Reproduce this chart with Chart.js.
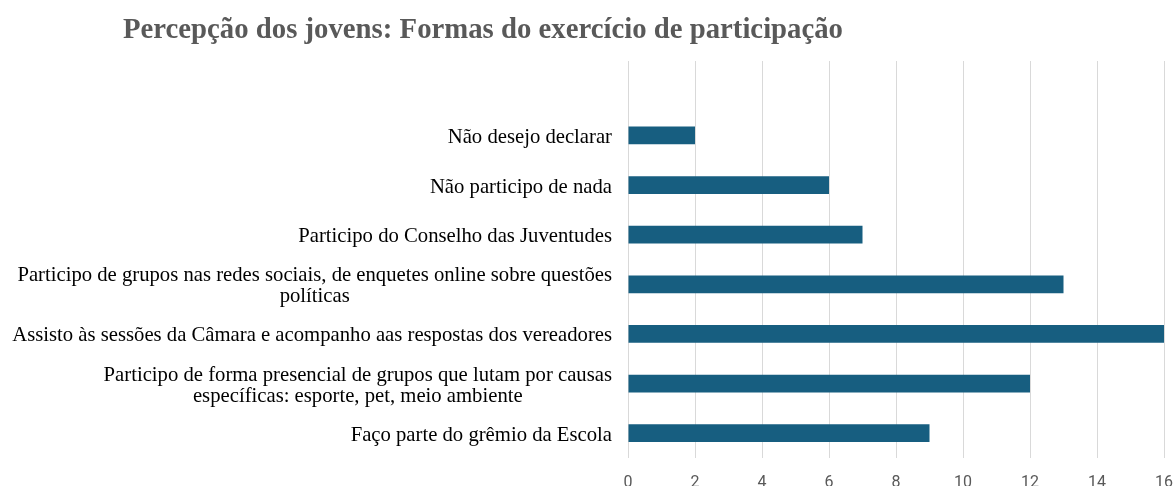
<!DOCTYPE html>
<html>
<head>
<meta charset="utf-8">
<script src="https://cdn.jsdelivr.net/npm/chart.js@4.4.1/dist/chart.umd.min.js"></script>
<style>
  body { margin: 0; background: #fff; }
  #wrap { width: 1174px; height: 486px; }
</style>
</head>
<body>
<div id="wrap"><canvas id="myChart"></canvas></div>
<script>
var chartTitle = "Percepção dos jovens: Formas do exercício de participação";

// first row is empty in the original chart (leaves the gap under the title)
var categories = [
  "",
  ["Não desejo declarar"],
  ["Não participo de nada"],
  ["Participo do Conselho das Juventudes"],
  ["Participo de grupos nas redes sociais, de enquetes online sobre questões", "políticas"],
  ["Assisto às sessões da Câmara e acompanho aas respostas dos vereadores"],
  ["Participo de forma presencial de grupos que lutam por causas", "específicas: esporte, pet, meio ambiente"],
  ["Faço parte do grêmio da Escola"]
];
var values = [null, 2, 6, 7, 13, 16, 12, 9];

var xMin = 0;
var xMax = 16;
var xStep = 2;

// draws title + wrapped category labels (centered lines, right edge at the axis)
var textPlugin = {
  id: 'textPlugin',
  afterDraw: function(chart) {
    var c = chart.ctx;
    var yScale = chart.scales.y;
    c.save();
    c.font = "bold 29px 'Liberation Serif'";
    c.fillStyle = '#595959';
    c.textAlign = 'left';
    c.textBaseline = 'alphabetic';
    c.fillText(chartTitle, 123, 38, 720);

    c.font = "20.7px 'Liberation Serif'";
    c.fillStyle = '#000000';
    c.textAlign = 'center';
    var right = chart.chartArea.left - 16;
    categories.forEach(function(lab, i) {
      var lines = Array.isArray(lab) ? lab : [lab];
      var w = 0;
      lines.forEach(function(l) { w = Math.max(w, c.measureText(l).width); });
      var cx = right - w / 2;
      var cy = yScale.getPixelForValue(i);
      lines.forEach(function(l, j) {
        c.fillText(l, cx, cy + 7.5 + (j - (lines.length - 1) / 2) * 21);
      });
    });
    c.restore();
  }
};

var ctx = document.getElementById("myChart");
var myChart = new Chart(ctx, {
  type: 'bar',
  data: {
    labels: categories,
    datasets: [{
      data: values,
      backgroundColor: '#175e80',
      borderWidth: 0,
      categoryPercentage: 1,
      barPercentage: 0.36
    }]
  },
  options: {
    indexAxis: 'y',
    responsive: true,
    maintainAspectRatio: false,
    animation: false,
    layout: { padding: { top: 61, right: 10, left: 0, bottom: 0 } },
    plugins: {
      legend: { display: false },
      tooltip: { enabled: false },
      title: { display: false }
    },
    scales: {
      x: {
        min: xMin,
        max: xMax,
        ticks: {
          stepSize: xStep,
          padding: 15,
          color: '#595959',
          font: { family: 'Roboto', size: 16 }
        },
        grid: { color: '#d9d9d9', drawTicks: false },
        border: { display: false },
        afterFit: function(s) { s.height = 28; s.paddingRight = 0; s.paddingLeft = 0; }
      },
      y: {
        ticks: { display: false },
        grid: { display: false },
        border: { display: false },
        afterFit: function(s) { s.width = 628; }
      }
    }
  },
  plugins: [textPlugin]
});
</script>
</body>
</html>
